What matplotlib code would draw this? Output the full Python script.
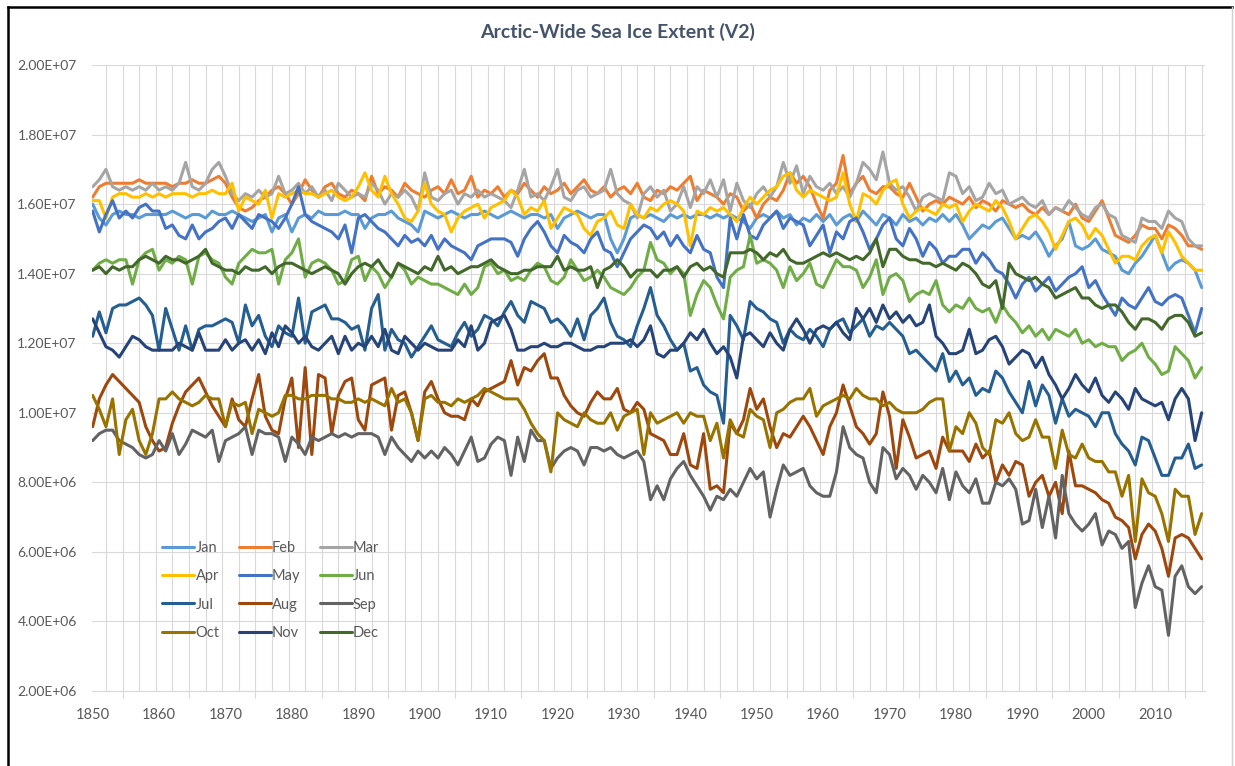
import numpy as np
import matplotlib
matplotlib.use("Agg")
import matplotlib.pyplot as plt
from matplotlib.lines import Line2D
from matplotlib.ticker import FuncFormatter, MultipleLocator

plt.rcParams['font.family'] = ['Lato', 'DejaVu Sans']

years = list(range(1850, 2018))
months = ["Jan", "Feb", "Mar", "Apr", "May", "Jun",
          "Jul", "Aug", "Sep", "Oct", "Nov", "Dec"]
colors = ["#5B9BD5", "#ED7D31", "#A5A5A5", "#FFC000", "#4472C4", "#70AD47",
          "#255E91", "#9E480E", "#636363", "#997300", "#264478", "#43682B"]

# values in units of 1e5 km^2
jan = [160,156,154,157,158,157,157,156,157,157,
       157,157,158,157,156,157,157,156,158,157,
       157,158,157,156,155,156,157,152,156,157,
       152,156,157,156,158,157,157,157,158,157,
       157,153,156,157,157,158,156,155,154,152,
       158,157,156,157,158,157,156,157,157,158,
       157,156,157,158,157,156,157,157,156,157,
       153,156,157,158,157,156,157,157,150,146,
       150,156,157,156,157,156,155,157,156,157,
       156,157,157,156,157,156,157,156,155,153,
       156,157,156,158,156,157,154,156,155,157,
       155,157,154,156,157,155,158,156,154,157,
       156,154,157,155,156,154,156,155,157,155,
       157,154,150,152,154,153,155,156,153,150,
       151,150,152,149,145,148,150,155,148,147,
       148,150,147,146,145,141,140,143,145,148,
       151,146,141,143,144,143,141,136]
feb = [162,165,166,166,166,166,166,167,166,166,
       166,166,165,166,166,167,166,166,167,168,
       166,162,159,158,159,161,162,164,165,163,
       160,163,167,164,162,165,166,163,162,164,
       163,161,168,163,165,164,162,166,164,163,
       162,164,165,163,167,163,164,168,162,164,
       163,165,162,164,163,166,164,162,165,163,
       164,166,163,165,167,164,163,165,162,164,
       165,163,166,162,161,164,163,165,164,166,
       168,161,164,163,162,160,163,162,158,160,
       156,160,162,161,164,169,166,168,165,160,
       156,164,166,174,163,166,168,164,163,165,
       165,163,162,166,162,158,160,161,160,162,
       161,160,162,159,161,160,158,161,160,159,
       160,158,157,159,157,159,158,157,160,156,
       155,158,161,156,151,150,149,151,154,153,
       153,150,154,153,151,148,148,147]
mar = [165,167,170,165,164,165,164,165,164,166,
       164,165,164,166,172,165,164,166,170,172,
       168,163,161,163,162,164,162,163,168,163,
       164,166,163,165,162,164,161,166,164,162,
       163,162,166,164,160,163,162,164,162,158,
       169,162,161,163,164,160,163,162,164,162,
       163,162,161,159,164,170,162,163,161,165,
       170,162,161,164,165,162,163,164,170,163,
       161,160,156,163,165,162,164,158,160,165,
       159,165,163,167,162,167,158,166,161,159,
       163,165,162,165,172,166,171,163,168,165,
       164,166,163,165,162,166,172,170,167,175,
       166,164,165,162,158,162,163,162,161,169,
       168,163,165,161,162,166,163,164,160,161,
       162,160,159,161,157,159,158,161,159,157,
       156,159,160,157,156,151,150,149,156,155,
       155,153,158,156,155,150,148,148]
apr = [161,161,156,162,163,163,162,162,163,162,
       163,162,163,163,163,162,163,163,164,163,
       163,166,158,162,161,160,164,156,163,162,
       163,164,163,163,162,163,164,162,161,162,
       165,169,164,162,168,163,160,156,155,158,
       166,160,158,157,152,156,158,159,160,156,
       159,160,161,164,162,157,159,158,161,153,
       156,159,158,157,153,151,155,156,158,154,
       153,160,157,156,159,158,160,161,160,158,
       148,158,157,159,158,159,157,155,159,162,
       160,162,164,165,168,169,164,162,164,163,
       162,161,162,169,160,155,163,162,160,164,
       166,167,160,156,158,159,158,157,160,159,
       160,155,158,160,159,158,161,159,155,150,
       153,156,157,155,152,147,151,155,156,154,
       150,153,151,147,143,145,145,144,148,150,
       151,146,152,149,145,143,141,141]
may = [158,152,157,161,156,158,156,159,160,158,
       158,153,154,151,150,154,150,152,153,155,
       156,153,157,155,153,157,156,155,153,156,
       160,165,157,155,154,153,152,150,154,146,
       156,157,155,153,152,150,148,151,149,150,
       148,151,147,150,148,147,146,144,148,149,
       150,150,150,149,145,150,153,155,152,148,
       146,151,149,148,146,150,152,147,146,142,
       146,150,152,154,153,150,152,148,151,148,
       146,151,147,146,139,136,156,150,157,151,
       150,154,156,158,153,156,155,154,148,151,
       154,146,152,150,155,156,152,147,150,154,
       156,150,148,153,150,145,149,147,143,145,
       145,147,147,143,146,144,141,140,137,133,
       137,139,135,137,139,135,137,139,140,142,
       136,138,134,131,128,133,131,130,133,136,
       132,131,133,134,133,128,123,130]
jun = [141,143,144,143,144,144,137,144,146,147,
       141,144,143,145,144,137,145,146,144,143,
       139,137,143,145,147,146,146,147,137,144,
       146,150,139,143,144,143,141,137,138,144,
       145,138,142,140,136,139,143,141,137,139,
       138,137,137,136,135,134,137,134,136,142,
       143,140,141,138,139,138,141,143,142,138,
       137,139,144,141,138,139,141,139,136,135,
       134,136,139,141,149,144,143,140,142,140,
       128,134,138,136,131,127,139,141,142,151,
       143,144,143,141,136,142,138,140,143,137,
       136,140,144,142,142,141,136,139,144,134,
       139,140,138,132,134,135,134,138,131,129,
       131,130,133,130,129,130,126,131,128,126,
       123,125,122,124,121,124,123,122,124,120,
       121,119,120,119,119,115,117,118,120,116,
       114,111,112,119,117,115,110,113]
jul = [122,129,123,130,131,131,132,133,131,128,
       118,130,124,118,125,118,124,125,125,126,
       127,126,120,131,125,128,122,119,125,123,
       122,133,120,129,130,131,127,127,126,124,
       125,118,130,134,118,124,121,120,116,119,
       122,125,121,120,119,123,126,122,124,128,
       127,125,129,132,128,126,132,131,130,126,
       127,125,122,127,121,128,130,133,126,122,
       121,119,125,130,136,128,125,121,118,120,
       112,113,108,106,105,97,128,125,121,132,
       130,129,127,126,120,124,122,121,124,122,
       119,124,126,127,123,125,127,122,125,124,
       126,124,122,117,118,116,114,112,117,109,
       112,108,110,105,107,106,112,110,106,103,
       100,109,102,108,105,97,104,99,101,100,
       99,96,100,100,94,91,89,85,93,92,
       87,82,82,87,87,91,84,85]
aug = [96,104,108,111,109,107,105,103,96,92,
       89,90,97,102,106,108,110,106,102,99,
       96,104,98,96,104,111,99,95,94,104,
       110,90,113,88,111,110,94,105,109,110,
       98,95,108,109,110,95,105,106,100,92,
       106,109,104,100,99,99,98,104,102,106,
       107,108,109,115,108,113,112,115,117,110,
       110,105,102,100,99,103,106,104,104,107,
       101,100,103,101,94,93,92,88,88,94,
       85,84,94,78,79,77,97,94,98,107,
       101,104,96,90,94,93,96,99,96,92,
       88,96,100,108,102,96,94,91,94,106,
       99,84,98,93,87,88,89,84,93,89,
       89,89,86,91,87,89,80,85,82,86,
       85,76,80,82,76,80,71,89,79,79,
       78,77,75,74,70,69,67,58,65,68,
       66,61,53,64,65,64,61,58]
sep = [92,94,95,95,92,91,90,88,87,88,
       92,89,94,88,91,95,94,93,95,86,
       92,93,94,96,88,95,94,94,93,86,
       93,91,88,93,92,93,94,93,94,93,
       94,94,94,93,88,93,90,88,86,89,
       87,89,87,90,88,85,89,93,86,87,
       91,93,92,82,93,86,95,92,92,84,
       87,89,90,89,85,90,90,89,90,88,
       87,88,89,86,75,79,75,81,84,86,
       82,79,76,72,76,75,78,76,80,84,
       81,83,70,78,85,82,83,84,79,77,
       76,76,83,96,90,88,87,80,77,90,
       88,81,84,82,78,82,80,77,84,75,
       83,79,77,81,74,74,80,79,81,78,
       68,69,78,67,76,64,82,71,68,66,
       68,71,62,66,65,61,63,44,51,56,
       50,49,36,53,56,50,48,50]
oct_ = [105,101,96,104,88,98,101,92,88,94,
        104,104,106,104,103,102,103,105,104,104,
        96,103,102,103,94,101,100,99,100,105,
        105,104,104,105,105,105,104,104,103,103,
        104,103,104,103,102,107,103,104,100,92,
        104,105,103,103,102,104,103,104,105,107,
        106,105,104,104,104,101,97,94,92,83,
        100,98,97,96,100,98,97,97,100,95,
        99,100,101,88,100,97,98,99,100,97,
        100,99,99,92,97,87,98,94,93,101,
        99,98,90,100,101,103,104,104,107,99,
        102,103,104,105,104,107,105,104,104,102,
        103,101,100,100,100,101,103,104,104,89,
        96,94,100,97,90,88,98,97,100,94,
        92,93,98,93,93,84,95,88,87,91,
        87,86,86,83,83,76,82,63,81,77,
        76,71,63,78,76,76,65,71]
nov = [127,123,119,118,116,119,122,121,119,118,
       118,118,118,120,119,118,123,118,118,118,
       121,118,120,121,118,121,117,123,119,125,
       123,120,122,119,118,120,122,117,122,118,
       120,119,122,119,124,118,117,122,120,118,
       120,119,118,118,118,121,119,125,118,120,
       126,127,128,124,118,118,119,119,120,119,
       119,120,120,119,118,118,119,119,120,120,
       120,121,119,121,125,117,116,118,118,120,
       123,121,124,120,117,119,116,110,122,123,
       121,119,123,120,118,124,127,124,120,124,
       125,124,126,123,121,130,127,130,126,131,
       127,129,126,128,125,126,131,122,120,117,
       117,118,124,117,118,121,122,119,114,116,
       118,117,113,116,111,108,104,107,111,108,
       106,110,105,103,106,104,101,107,104,103,
       102,103,98,104,107,104,92,100]
dec = [141,142,140,142,141,142,142,144,145,144,
       143,145,144,144,143,144,145,147,143,142,
       141,141,140,142,141,141,142,140,142,143,
       143,142,141,140,141,142,141,140,137,140,
       142,143,142,144,141,139,143,142,141,140,
       142,141,145,141,142,140,141,142,142,143,
       144,142,141,140,140,141,141,142,142,142,
       145,141,142,141,141,142,136,141,142,144,
       142,139,141,141,141,139,141,141,142,139,
       142,143,141,142,140,139,146,146,146,147,
       146,144,146,145,147,144,143,143,144,145,
       146,145,146,145,144,145,144,146,150,142,
       147,147,145,144,144,143,143,142,143,142,
       141,143,142,140,137,136,138,130,143,140,
       139,138,139,137,136,133,134,135,136,133,
       133,131,130,131,131,129,126,124,127,127,
       126,124,127,128,128,126,122,123]

series = [jan, feb, mar, apr, may, jun, jul, aug, sep, oct_, nov, dec]
for s in series:
    assert len(s) == len(years), len(s)

W, H = 1235, 766
fig = plt.figure(figsize=(W / 100, H / 100), dpi=100)
fig.patch.set_facecolor("white")
ax = fig.add_axes([92 / W, 1 - 691 / H, (1205 - 92) / W, (691 - 65) / H])

lines = []
for name, col, s in zip(months, colors, series):
    ln, = ax.plot(years, np.array(s) * 1e5, color=col, lw=2.2, label=name,
                  solid_joinstyle="round", solid_capstyle="round", zorder=3)
    lines.append(ln)

ax.set_xlim(1849.9, 2017.5)
ax.set_ylim(2e6, 2e7)
ax.yaxis.set_major_locator(MultipleLocator(2e6))
ax.yaxis.set_major_formatter(FuncFormatter(lambda v, p: f"{v:.2E}"))
ax.set_xticks(list(range(1850, 2011, 10)))
ax.set_xticks([1854.5 + 10 * k for k in range(17)], minor=True)

grid_c = "#D9D9D9"
for gx in np.arange(1852.0, 2017.5, 2.5):
    ax.axvline(gx, color=grid_c, lw=0.8, zorder=1)
ax.grid(axis="y", color=grid_c, lw=0.8, zorder=1)
ax.set_axisbelow(True)

for sp in ["left", "right", "top"]:
    ax.spines[sp].set_visible(False)
ax.spines["bottom"].set_color(grid_c)
ax.spines["bottom"].set_linewidth(0.8)

ax.tick_params(axis="y", length=0, pad=11, labelsize=10, labelcolor="#595959")
ax.tick_params(axis="x", which="major", length=0, pad=12, labelsize=10.5,
               labelcolor="#595959")
ax.tick_params(axis="x", which="minor", length=5, width=0.8, color=grid_c)

fig.text(0.5, 1 - 32 / H, "Arctic-Wide Sea Ice Extent (V2)", ha="center",
         va="center", fontsize=14, fontweight="bold", color="#44546A")

order = [0, 3, 6, 9, 1, 4, 7, 10, 2, 5, 8, 11]
leg = ax.legend([lines[i] for i in order], [months[i] for i in order],
                ncol=3, loc="upper left",
                bbox_to_anchor=(162 / W, 1 - 541 / H),
                bbox_transform=fig.transFigure, frameon=False,
                fontsize=10.5, labelcolor="#595959", handlelength=2.2,
                handletextpad=0.1, columnspacing=1.3, labelspacing=0.98,
                borderpad=0, borderaxespad=0)

# outer frame: black on left and top, light gray on the right
fig.add_artist(Line2D([8 / W, 8 / W], [0, 1 - 7 / H], transform=fig.transFigure,
                      color="black", lw=1.8))
fig.add_artist(Line2D([8 / W, 1232 / W], [1 - 7 / H, 1 - 7 / H],
                      transform=fig.transFigure, color="black", lw=1.8))
fig.add_artist(Line2D([1232 / W, 1232 / W], [0, 1 - 7 / H],
                      transform=fig.transFigure, color="#D0D0D0", lw=1.0))

fig.savefig("out.png", dpi=100, facecolor="white")
